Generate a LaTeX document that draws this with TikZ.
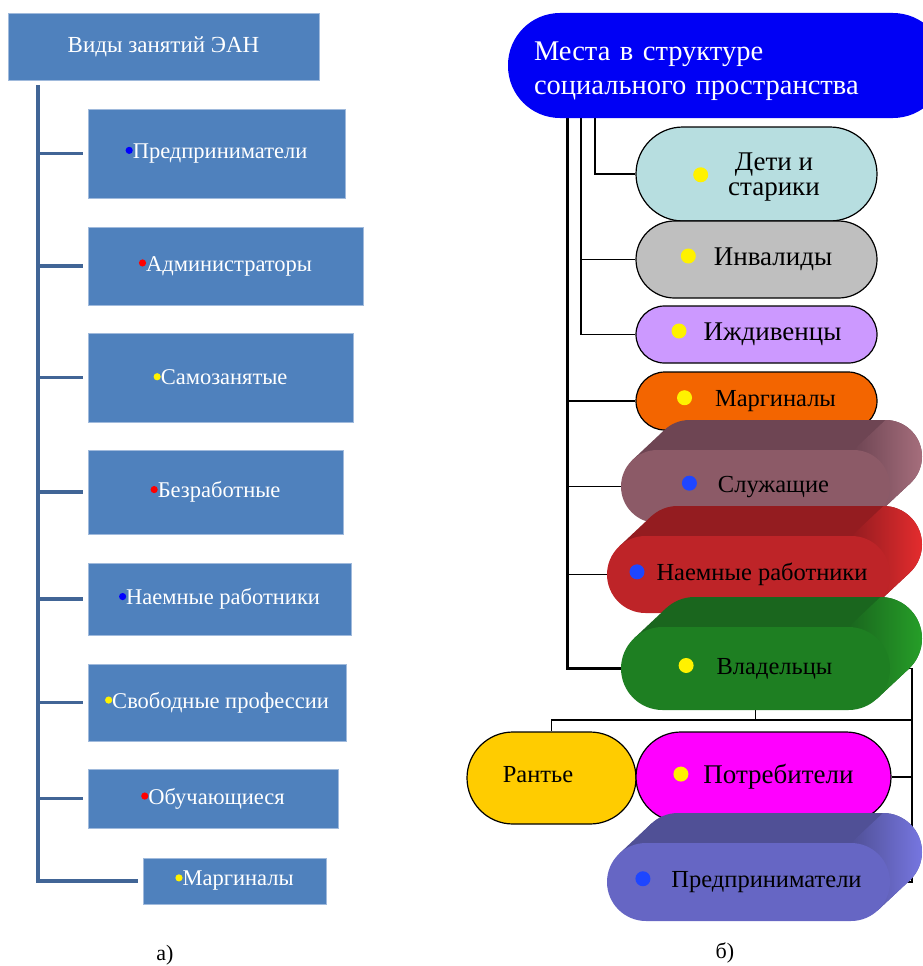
\documentclass[tikz,border=0pt]{standalone}
\usepackage{fontspec}
\setmainfont{Liberation Serif}
\usetikzlibrary{shapes.misc,backgrounds}
\definecolor{eanblue}{RGB}{79,129,189}
\definecolor{eanedge}{RGB}{160,186,220}
\definecolor{eanline}{RGB}{65,101,150}
\definecolor{topblue}{RGB}{0,0,245}
\definecolor{detifill}{RGB}{183,222,224}
\definecolor{invfill}{RGB}{191,191,191}
\definecolor{izhdfill}{RGB}{204,153,255}
\definecolor{margfill}{RGB}{243,101,0}
\definecolor{rantfill}{RGB}{255,204,0}
\definecolor{potrfill}{RGB}{255,0,255}
\definecolor{dotblue}{RGB}{30,70,255}
\definecolor{sluzhfront}{RGB}{140,90,103}
\definecolor{sluzhtop}{RGB}{110,69,83}
\definecolor{sluzhside}{RGB}{165,110,124}
\definecolor{naemfront}{RGB}{190,36,40}
\definecolor{naemtop}{RGB}{148,28,32}
\definecolor{naemside}{RGB}{228,44,46}
\definecolor{vladfront}{RGB}{30,127,34}
\definecolor{vladtop}{RGB}{26,102,30}
\definecolor{vladside}{RGB}{38,158,40}
\definecolor{predfront}{RGB}{102,102,196}
\definecolor{predtop}{RGB}{80,80,150}
\definecolor{predside}{RGB}{118,118,224}

% coloured marker in front of a label
\newcommand{\dotmark}[2][7.5pt]{\tikz[baseline=-0.36em]\fill[#2] (0,0) circle (#1);}

% extruded pill: name, x, y, width, height, colour prefix, text
\newcommand{\solidpill}[7]{%
  \pgfmathsetmacro{\pr}{#5/2}
  \pgfmathsetmacro{\plx}{#2-#4/2+\pr}
  \pgfmathsetmacro{\prx}{#2+#4/2-\pr}
  \node[pill, fill=#6top, minimum width=#4, minimum height=#5] (#1-back) at (#2+32,#3-30) {};
  \fill[#6top] (\plx-0.684*\pr, #3-0.729*\pr) -- ++(32,-30)
    -- (\prx+0.684*\pr+32, #3+0.729*\pr-30) -- (\prx+0.684*\pr, #3+0.729*\pr) -- cycle;
  \shade[left color=#6top, right color=#6side] (\prx, #3-\pr) -- (\prx+32, #3-\pr-30)
    arc[start angle=-90, end angle=46.8, radius=\pr] -- (\prx+0.684*\pr, #3+0.729*\pr) -- cycle;
  \node[pill, fill=#6front, minimum width=#4, minimum height=#5] (#1) at (#2,#3) {#7};
}

\begin{document}
\begin{tikzpicture}[x=1pt, y=-1pt,
  lbox/.style={rectangle, fill=eanblue, draw=eanedge, line width=0.8pt, text=white,
    inner sep=0pt, font=\fontsize{22.5}{24}\selectfont},
  trunk/.style={eanline, line width=3.5pt},
  pill/.style={rounded rectangle, inner sep=0pt, font=\fontsize{24.5}{25}\selectfont},
  bigtext/.style={font=\fontsize{27}{25}\selectfont},
  flatpill/.style={pill, draw=black, line width=1.2pt},
  conn/.style={black, line width=1.5pt},
  thickconn/.style={black, line width=3pt},
  caption/.style={font=\fontsize{22}{24}\selectfont}]
\useasboundingbox (0,0) rectangle (923,966);
\clip (0,0) rectangle (923,966);

% -- a) kinds of occupation --
\node[lbox, minimum width=311, minimum height=67, font=\fontsize{23}{24}\selectfont] (vidy)
  at (163.5,46.5) {Виды занятий ЭАН};
\node[lbox, minimum width=257, minimum height=89] (lpred) at (216.5,153.5) {\dotmark[3.6pt]{blue}Предприниматели};
\node[lbox, minimum width=275, minimum height=78] (ladm) at (225.5,266) {\dotmark[3.6pt]{red}Администраторы};
\node[lbox, minimum width=265, minimum height=89] (lsamo) at (220.5,377.5) {\dotmark[3.6pt]{yellow}Самозанятые};
\node[lbox, minimum width=255, minimum height=84] (lbez) at (215.5,492) {\dotmark[3.6pt]{red}Безработные};
\node[lbox, minimum width=263, minimum height=72] (lnaem) at (219.5,599) {\dotmark[3.6pt]{blue}Наемные работники};
\node[lbox, minimum width=258, minimum height=77] (lsvob) at (217,702.5) {\dotmark[3.6pt]{yellow}Свободные профессии};
\node[lbox, minimum width=250, minimum height=59] (lobuch) at (213,798.5) {\dotmark[3.6pt]{red}Обучающиеся};
\node[lbox, minimum width=183, minimum height=46] (lmarg) at (234.5,881) {\dotmark[3.6pt]{yellow}Маргиналы};
\coordinate (ltop) at (38,85);
\draw[trunk] (ltop) |- ([xshift=-5pt]lmarg.west);
\foreach \b in {lpred,ladm,lsamo,lbez,lnaem,lsvob,lobuch}
  \draw[trunk] (ltop |- \b.west) -- ([xshift=-5pt]\b.west);
\node[caption] (capa) at (165,955) {а)};

% -- b) places in the social space --
\node[rectangle, rounded corners=52pt, fill=topblue, text=white, minimum width=437,
  minimum height=105, inner xsep=26pt, inner ysep=0pt, text width=385pt, align=left,
  font=\fontsize{28.5}{34}\selectfont] (mesta) at (726.5,65.5)
  {\rule{0pt}{30pt}Места в структуре\\социального пространства};
\node[flatpill, bigtext, fill=detifill, minimum width=241, minimum height=94,
  text height=30pt, text depth=9pt] (deti) at (756.5,174)
  {\dotmark{yellow}\hspace{20pt}\begin{tabular}{@{}c@{}}Дети и\\старики\end{tabular}};
\node[flatpill, bigtext, fill=invfill, minimum width=241, minimum height=77] (inval) at (756.5,259.5)
  {\dotmark{yellow}\hspace{18pt}Инвалиды};
\node[flatpill, bigtext, fill=izhdfill, minimum width=241, minimum height=57] (izhd) at (756.5,334.5)
  {\dotmark{yellow}\hspace{17pt}Иждивенцы};
\node[flatpill, fill=margfill, minimum width=241, minimum height=58] (rmarg) at (756.5,401)
  {\dotmark{yellow}\hspace{23pt}Маргиналы};
\solidpill{sluzh}{755.5}{486.5}{269}{73}{sluzh}{\dotmark{dotblue}\hspace{21pt}Служащие}
\solidpill{rnaem}{748.5}{574.5}{283}{77}{naem}{\dotmark{dotblue}\hspace{12pt}Наемные работники}
\solidpill{vlad}{755.5}{668.5}{269}{83}{vlad}{\dotmark{yellow}\hspace{23pt}Владельцы}
\node[flatpill, fill=rantfill, minimum width=169, minimum height=92] (rant) at (551.5,778)
  {\raisebox{8pt}{Рантье}\kern27pt};
\node[flatpill, bigtext, fill=potrfill, minimum width=255, minimum height=90] (potr) at (763.5,777)
  {\dotmark{yellow}\hspace{15pt}Потребители};
\solidpill{rpred}{748.5}{882}{283}{78}{pred}{\dotmark{dotblue}\hspace{21pt}Предприниматели}
\node[caption] (capb) at (725,953) {б)};

\begin{scope}[on background layer]
\coordinate (ra) at (567,118);
\coordinate (rb) at (581,118);
\coordinate (rc) at (595,118);
\coordinate (rside) at (912,720);
\draw[conn] (rc) |- (deti.west);
\draw[conn] (rb) |- (izhd.west);
\draw[conn] (rb |- inval.west) -- (inval.west);
\draw[thickconn] (ra) |- (vlad.west);
\foreach \p in {rmarg,sluzh,rnaem}
  \draw[conn] (ra |- \p.west) -- (\p.west);
\draw[conn] (vlad.south) -- ++(0,10) -| (rant.north);
\draw[conn] (vlad.south) |- (rside);
\draw[conn] (vlad.east) -| (rside) |- (rpred.east);
\draw[conn] (potr.east) -- (rside |- potr.east);
\end{scope}
\end{tikzpicture}
\end{document}
